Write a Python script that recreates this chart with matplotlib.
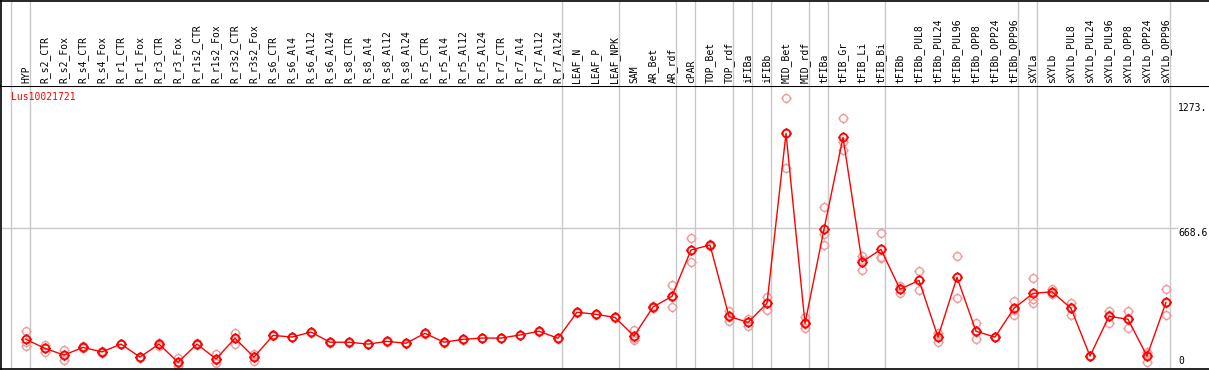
import numpy as np
import matplotlib
matplotlib.use('Agg')
from matplotlib import pyplot as plt
from matplotlib.path import Path

# -- data --
samples = ['HYP', 'R_s2_CTR', 'R_s2_Fox', 'R_s4_CTR', 'R_s4_Fox', 'R_r1_CTR', 'R_r1_Fox',
           'R_r3_CTR', 'R_r3_Fox', 'R_r1s2_CTR', 'R_r1s2_Fox', 'R_r3s2_CTR', 'R_r3s2_Fox',
           'R_s6_CTR', 'R_s6_Al4', 'R_s6_Al12', 'R_s6_Al24', 'R_s8_CTR', 'R_s8_Al4', 'R_s8_Al12',
           'R_s8_Al24', 'R_r5_CTR', 'R_r5_Al4', 'R_r5_Al12', 'R_r5_Al24', 'R_r7_CTR', 'R_r7_Al4',
           'R_r7_Al12', 'R_r7_Al24', 'LEAF_N', 'LEAF_P', 'LEAF_NPK', 'SAM', 'AR_Bet', 'AR_rdf',
           'cPAR', 'TOP_Bet', 'TOP_rdf', 'iFIBa', 'iFIBb', 'MID_Bet', 'MID_rdf', 'tFIBa', 'tFIB_Gr',
           'tFIB_Li', 'tFIB_Bi', 'tFIBb', 'tFIBb_PUL8', 'tFIBb_PUL24', 'tFIBb_PUL96', 'tFIBb_OPP8',
           'tFIBb_OPP24', 'tFIBb_OPP96', 'sXYLa', 'sXYLb', 'sXYLb_PUL8', 'sXYLb_PUL24',
           'sXYLb_PUL96', 'sXYLb_OPP8', 'sXYLb_OPP24', 'sXYLb_OPP96']

means = [129, 85, 53, 90, 68, 106, 43, 106, 18, 106, 34, 134, 43, 148, 140, 164, 115, 115,
         106, 119, 110, 158, 115, 129, 135, 135, 150, 168, 134, 260, 250, 235, 145, 285, 337,
         561, 585, 240, 211, 303, 1125, 206, 661, 1105, 503, 564, 371, 414, 140, 429, 168, 140,
         279, 351, 359, 279, 48, 240, 226, 48, 308]

replicates = [[169, 118, 98], [101, 85, 69], [77, 53, 29], [95, 88, 86], [72, 66, 65],
              [108, 106, 104], [45, 43, 41], [113, 110, 95], [40, 14, 1], [110, 106, 102],
              [58, 31, 13], [161, 135, 106], [60, 46, 23], [150, 148, 146], [142, 140, 138],
              [166, 164, 162], [117, 115, 113], [117, 115, 113], [108, 106, 104], [121, 119, 117],
              [112, 110, 108], [160, 158, 156], [117, 115, 113], [131, 129, 127], [137, 135, 133],
              [137, 135, 133], [152, 150, 148], [170, 168, 166], [136, 134, 132], [262, 260, 258],
              [252, 250, 248], [237, 235, 233], [174, 135, 126], [290, 285, 280], [390, 334, 287],
              [619, 563, 501], [590, 585, 580], [266, 238, 216], [229, 212, 192], [332, 305, 272],
              [1294, 1125, 956], [235, 201, 182], [767, 637, 585], [1198, 1085, 1044],
              [532, 511, 466], [642, 527, 522], [387, 375, 351], [458, 417, 367], [158, 144, 118],
              [530, 429, 327], [208, 164, 132], [142, 140, 138], [316, 273, 248], [424, 326, 303],
              [374, 355, 348], [306, 283, 248], [50, 48, 46], [266, 245, 209], [264, 230, 184],
              [69, 57, 18], [372, 307, 245]]

group_starts = [0, 1, 29, 32, 35, 36, 38, 39, 40, 42, 43, 46, 53, 54, 61]   # first sample of each group
gene = 'Lus10021721'
axis_marks = [1273, 668.6, 0]
axis_texts = ['1273.', '668.6', '0']

# -- layout (pixels of a 1209x370 image) --
W, H = 1209, 370
fig = plt.figure(figsize=(W / 100, H / 100), dpi=100)
head_y = 85.5
plot_bottom = 369
ax = fig.add_axes([1 / W, (H - plot_bottom) / H, 1 - 1 / W, (plot_bottom - head_y) / H])
axh = fig.add_axes([1 / W, (H - head_y) / H, 1 - 1 / W, (head_y - 0.5) / H], sharex=ax)

x = np.arange(len(samples))
ax.set_xlim((1 - 26) / 19, (W - 26) / 19)
ax.set_ylim(-14.5, 1356.4)

# marker: circle with small ticks, like the pixel markers of the original
circ = Path.unit_circle()
ticks = Path([(0, 1), (0, 1.35), (0, -1), (0, -1.35), (1, 0), (1.35, 0), (-1, 0), (-1.35, 0)],
             [Path.MOVETO, Path.LINETO] * 4)
mark = Path.make_compound_path(circ, ticks)

grey = '#c8c8c8'
for g in group_starts:
    ax.axvline(g - 0.8, color=grey, lw=1, zorder=0)
    axh.axvline(g - 0.8, color=grey, lw=1, zorder=0)
ax.axhline(668.6, xmax=1177 / W, color=grey, lw=1, zorder=0)

for i, reps in enumerate(replicates):
    ax.plot([i] * len(reps), reps, linestyle='none', marker=mark, markersize=7.5,
            markerfacecolor='none', markeredgecolor='#f09a9a', markeredgewidth=1, zorder=2)
ax.plot(x, means, color='red', lw=1, marker=mark, markersize=7.5, markerfacecolor='none',
        markeredgecolor='red', markeredgewidth=1.3, zorder=3)

mono = 'DejaVu Sans Mono'
ax.text(10 / W, 1 - (92 - head_y) / (plot_bottom - head_y), gene, transform=ax.transAxes,
        color='red', fontsize=7, family=mono, va='top', ha='left')
for v, t in zip(axis_marks, axis_texts):
    ax.text((1178 - 26) / 19, v, t, fontsize=7, family=mono, ha='left',
            va='bottom' if v == 0 else 'top')

for i, s in enumerate(samples):
    axh.text(i, 0.03, s, rotation=90, ha='center', va='bottom', fontsize=7, family=mono)

for a in (ax, axh):
    a.set_xticks([])
    a.set_yticks([])
    a.spines['right'].set_visible(False)
    for sp in a.spines.values():
        sp.set_linewidth(1.2)
axh.spines['bottom'].set_visible(False)
ax.spines['top'].set_linewidth(1.5)

fig.savefig('out.png', dpi=100)
